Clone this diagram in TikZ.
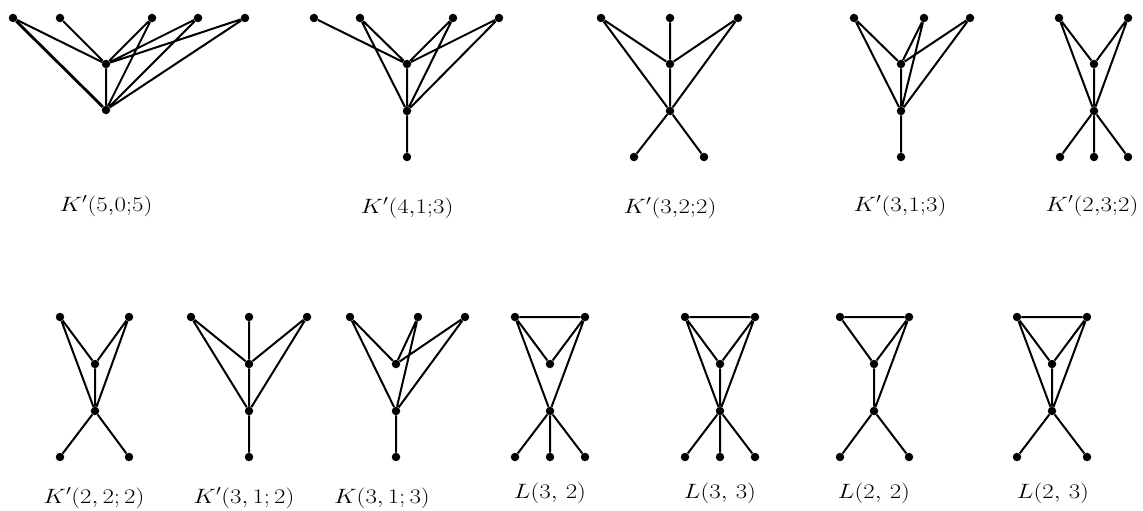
\documentclass[tikz,border=0pt]{standalone}
\newcommand{\glab}[1]{\scalebox{1.2}[1]{$#1$}}
\begin{document}
\begin{tikzpicture}[x=1pt,y=-1pt,
  v/.style={circle,fill=black,inner sep=0pt,minimum size=8.5pt},
  ed/.style={line width=2pt},
  thk/.style={line width=2.8pt},
  lab/.style={anchor=base,inner sep=0pt,font=\fontsize{21}{25}\selectfont}]
\useasboundingbox (0,0) rectangle (1143,511);
% ---------- Graph 1: K'(5,0;5)
\node[v] (a1) at (13,18) {}; \node[v] (a2) at (60,18) {}; \node[v] (a3) at (152,18) {};
\node[v] (a4) at (198,18) {}; \node[v] (a5) at (245,18) {};
\node[v] (am) at (106,64) {}; \node[v] (ab) at (106,110) {};
\draw[ed] (a1)--(am) (a2)--(am) (a3)--(am) (a3)--(ab) (a4)--(am) (a4)--(ab) (a5)--(am) (a5)--(ab) (am)--(ab);
\draw[thk] (a1)--(ab);
\node[lab] (la) at (106,211) {\glab{K'(5{,}0{;}5)}};
% ---------- Graph 2: K'(4,1;3)
\node[v] (b1) at (314,18) {}; \node[v] (b2) at (360,18) {}; \node[v] (b3) at (453,18) {}; \node[v] (b4) at (499,18) {};
\node[v] (bm) at (407,64) {}; \node[v] (bb) at (407,111) {}; \node[v] (bp) at (407,157) {};
\draw[ed] (b1)--(bm) (b2)--(bm) (b2)--(bb) (b3)--(bm) (b3)--(bb) (b4)--(bm) (b4)--(bb) (bm)--(bb) (bb)--(bp);
\node[lab] (lb) at (407,213) {\glab{K'(4{,}1{;}3)}};
% ---------- Graph 3: K'(3,2;2)
\node[v] (c1) at (601,18) {}; \node[v] (c2) at (670,18) {}; \node[v] (c3) at (738,18) {};
\node[v] (cm) at (670,64) {}; \node[v] (cb) at (670,111) {};
\node[v] (cp1) at (634,157) {}; \node[v] (cp2) at (704,157) {};
\draw[ed] (c1)--(cm) (c1)--(cb) (c2)--(cm) (c3)--(cm) (c3)--(cb) (cm)--(cb) (cb)--(cp1) (cb)--(cp2);
\node[lab] (lc) at (670,213) {\glab{K'(3{,}2{;}2)}};
% ---------- Graph 4: K'(3,1;3)
\node[v] (d1) at (854,18) {}; \node[v] (d2) at (924,18) {}; \node[v] (d3) at (970,18) {};
\node[v] (dm) at (901,64) {}; \node[v] (db) at (901,111) {}; \node[v] (dp) at (901,157) {};
\draw[ed] (d1)--(dm) (d1)--(db) (d2)--(dm) (d2)--(db) (d3)--(dm) (d3)--(db) (dm)--(db) (db)--(dp);
\node[lab] (ld) at (900,211) {\glab{K'(3{,}1{;}3)}};
% ---------- Graph 5: K'(2,3;2)
\node[v] (e1) at (1059,18) {}; \node[v] (e2) at (1128,18) {};
\node[v] (em) at (1094,64) {}; \node[v] (eb) at (1094,111) {};
\node[v] (ep1) at (1060,157) {}; \node[v] (ep2) at (1094,157) {}; \node[v] (ep3) at (1128,157) {};
\draw[ed] (e1)--(em) (e1)--(eb) (e2)--(em) (e2)--(eb) (em)--(eb) (eb)--(ep1) (eb)--(ep2) (eb)--(ep3);
\node[lab] (le) at (1092,211) {\glab{K'(2{,}3{;}2)}};
% ---------- Row 2
% K'(2,2;2)
\node[v] (f1) at (60,317) {}; \node[v] (f2) at (129,317) {};
\node[v] (fm) at (95,364) {}; \node[v] (fb) at (95,411) {};
\node[v] (fp1) at (60,457) {}; \node[v] (fp2) at (129,457) {};
\draw[ed] (f1)--(fm) (f1)--(fb) (f2)--(fm) (f2)--(fb) (fm)--(fb) (fb)--(fp1) (fb)--(fp2);
\node[lab] (lf) at (94,503) {\glab{K'(2,2;2)}};
% K'(3,1;2)
\node[v] (g1) at (191,317) {}; \node[v] (g2) at (249,317) {}; \node[v] (g3) at (307,317) {};
\node[v] (gm) at (249,364) {}; \node[v] (gb) at (249,411) {}; \node[v] (gp) at (249,457) {};
\draw[ed] (g1)--(gm) (g1)--(gb) (g2)--(gm) (g3)--(gm) (g3)--(gb) (gm)--(gb) (gb)--(gp);
\node[lab] (lg) at (244,503) {\glab{K'(3,1;2)}};
% K(3,1;3)
\node[v] (h1) at (350,317) {}; \node[v] (h2) at (418,317) {}; \node[v] (h3) at (465,317) {};
\node[v] (hm) at (396,364) {}; \node[v] (hb) at (396,411) {}; \node[v] (hp) at (396,457) {};
\draw[ed] (h1)--(hm) (h1)--(hb) (h2)--(hm) (h2)--(hb) (h3)--(hm) (h3)--(hb) (hb)--(hp);
\node[lab] (lh) at (382,503) {\glab{K(3,1;3)}};
% L(3,2)
\node[v] (i1) at (515,317) {}; \node[v] (i2) at (585,317) {};
\node[v] (im) at (550,364) {}; \node[v] (ib) at (550,411) {};
\node[v] (ip1) at (515,457) {}; \node[v] (ip2) at (550,457) {}; \node[v] (ip3) at (585,457) {};
\draw[ed] (i1)--(i2) (i1)--(im) (i1)--(ib) (i2)--(im) (i2)--(ib) (ib)--(ip1) (ib)--(ip2) (ib)--(ip3);
\node[lab] (li) at (550,498) {\glab{L(3,\,2)}};
% L(3,3)
\node[v] (j1) at (685,317) {}; \node[v] (j2) at (755,317) {};
\node[v] (jm) at (720,364) {}; \node[v] (jb) at (720,411) {};
\node[v] (jp1) at (685,457) {}; \node[v] (jp2) at (720,457) {}; \node[v] (jp3) at (755,457) {};
\draw[ed] (j1)--(j2) (j1)--(jm) (j1)--(jb) (j2)--(jm) (j2)--(jb) (jm)--(jb) (jb)--(jp1) (jb)--(jp2) (jb)--(jp3);
\node[lab] (lj) at (720,498) {\glab{L(3,\,3)}};
% L(2,2)
\node[v] (k1) at (840,317) {}; \node[v] (k2) at (909,317) {};
\node[v] (km) at (874,364) {}; \node[v] (kb) at (874,411) {};
\node[v] (kp1) at (840,457) {}; \node[v] (kp2) at (909,457) {};
\draw[ed] (k1)--(k2) (k1)--(km) (k2)--(km) (k2)--(kb) (km)--(kb) (kb)--(kp1) (kb)--(kp2);
\node[lab] (lk) at (874,498) {\glab{L(2,\,2)}};
% L(2,3)
\node[v] (l1) at (1017,317) {}; \node[v] (l2) at (1087,317) {};
\node[v] (lm) at (1052,364) {}; \node[v] (lb2) at (1052,411) {};
\node[v] (lp1) at (1017,457) {}; \node[v] (lp2) at (1087,457) {};
\draw[ed] (l1)--(l2) (l1)--(lm) (l1)--(lb2) (l2)--(lm) (l2)--(lb2) (lm)--(lb2) (lb2)--(lp1) (lb2)--(lp2);
\node[lab] (ll) at (1053,498) {\glab{L(2,\,3)}};
\end{tikzpicture}
\end{document}
